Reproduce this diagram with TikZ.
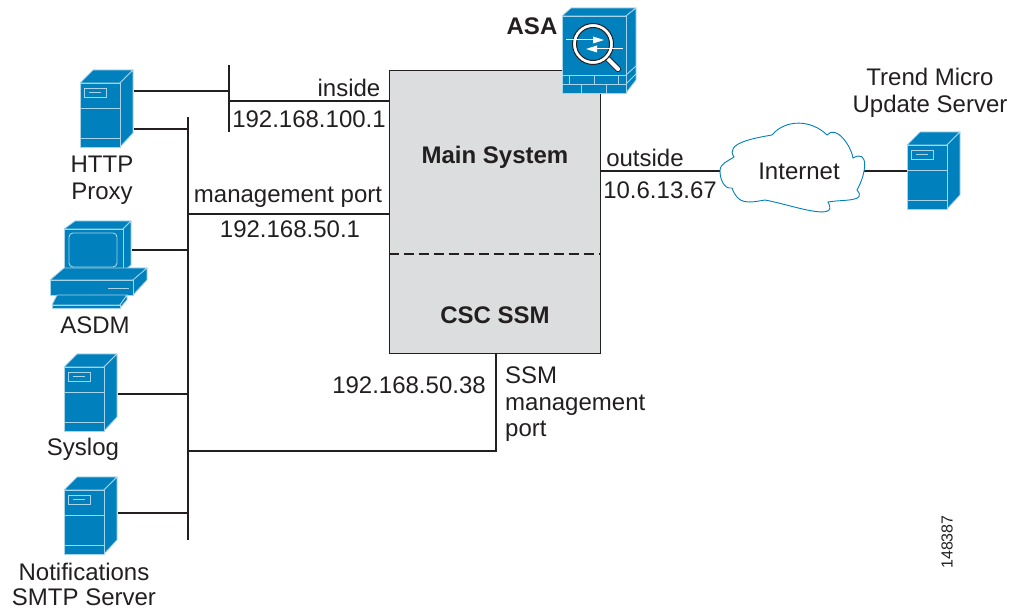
\documentclass[tikz,border=0pt]{standalone}
\usepackage{fontspec}
\setmainfont{Liberation Sans}
\usetikzlibrary{calc}

\definecolor{ciscoblue}{HTML}{0080BC}
\definecolor{edgeblue}{HTML}{A8D4EA}
\definecolor{boxgray}{HTML}{DCDDDE}
\definecolor{inkdark}{HTML}{231F20}

\tikzset{
  face/.style = {fill=ciscoblue, draw=edgeblue, line width=0.8pt, line join=round},
  trim/.style = {draw=edgeblue, line width=0.9pt},
  server/.pic = {
    \path[face] (0,0) -- (13,-13) -- (53,-13) -- (40,0) -- cycle;
    \path[face] (40,0) -- (53,-13) -- (53,50) -- (40,64) -- cycle;
    \path[face] (0,0) rectangle (40,64);
    \path[trim] (4,5) rectangle (26,14);
    \path[trim] (9,9.5) -- (21,9.5);
    \path[trim] (0,25) -- (40,25);
    \path[trim] (0,55) -- (40,55);
  },
  desktop/.pic = {
    % monitor
    \path[face] (0,0) -- (11,-8) -- (67,-8) -- (59,0) -- cycle;
    \path[face] (59,0) -- (67,-8) -- (67,36) -- (59,43) -- cycle;
    \path[face] (0,0) rectangle (59,43);
    \path[trim, rounded corners=4pt] (5,4) rectangle (53,38);
    % base
    \path[face] (-14,51) -- (0,39) -- (83,39) -- (69,51) -- cycle;
    \path[face] (69,51) -- (83,39) -- (83,51) -- (69,66) -- cycle;
    \path[face] (-14,51) rectangle (69,66);
    \path[trim, line width=1.3pt] (44,59.5) -- (65,59.5);
    % keyboard
    \path[face] (-7,66) -- (63,66) -- (56,76) -- (-12,76) -- cycle;
    \path[face] (63,66) -- (63,71) -- (56,79) -- (56,76) -- cycle;
    \path[face] (-12,76) rectangle (56,79);
  },
  firewall/.pic = {
    \path[face] (0,0) -- (9,-8) -- (74,-8) -- (64,0) -- cycle;
    \path[face] (64,0) -- (74,-8) -- (74,64) -- (64,77) -- cycle;
    \path[face] (0,0) rectangle (64,77);
    % bricks
    \path[trim] (0,59) -- (64,59) (0,68) -- (64,68);
    \path[trim] (7,59) -- (7,68) (32,59) -- (32,68) (56,59) -- (56,68);
    \path[trim] (19,68) -- (19,77) (44,68) -- (44,77);
    \path[trim] (64,59) -- (74,50) (64,68) -- (74,58);
    % magnifier
    \draw[inkdark, line width=6pt, line cap=round] (46,43) -- (56,53);
    \draw[white, line width=4.2pt, line cap=round] (46,43) -- (56,53);
    \draw[white, line width=3.6pt] (31,28) circle (18.5);
    \draw[inkdark, line width=1pt] (31,28) circle (20.5) (31,28) circle (16.5);
    \draw[white, line width=1pt] (4,24) -- (32,24);
    \fill[white] (31,20.5) -- (42,24) -- (31,27.5) -- cycle;
    \draw[white, line width=1pt] (61,33) -- (34,33);
    \fill[white] (35,29.5) -- (24,33) -- (35,36.5) -- cycle;
  }
}

\begin{document}
\begin{tikzpicture}[
    x = 1pt, y = -1pt,
    every node/.style = {text=inkdark, font=\fontsize{24}{26.5}\selectfont, inner sep=0pt},
    link/.style = {draw=inkdark, line width=1.5pt},
    strong/.style = {font=\fontsize{24}{26.5}\selectfont\bfseries},
    cloudbox/.style = {minimum width=143pt, minimum height=85pt}
  ]
  \useasboundingbox (0,0) rectangle (1010,609);

  \node[draw=inkdark, fill=boxgray, line width=1pt, minimum width=211pt, minimum height=283pt]
    (mainbox) at (494.5,212.5) {};
  \draw[dash pattern=on 10pt off 5pt, inkdark, line width=1.3pt]
    (mainbox.west |- 0,254) -- (mainbox.east |- 0,254);

  \coordinate (bustop) at (188,117);
  \coordinate (busend) at (188,540);
  \coordinate (lantop) at (229,65);
  \coordinate (lanend) at (229,132);

  \coordinate (proxyup) at (134,91);
  \coordinate (proxydown) at (134,129);
  \coordinate (asdmport) at (132,250);
  \coordinate (syslogport) at (118,394);
  \coordinate (smtpport) at (118,513);
  \coordinate (trendport) at (907,172);

  \node[cloudbox] (internet) at (792,171) {};

  % Lines
  \path[link] (bustop) -- (busend);
  \path[link] (lantop) -- (lanend);
  \path[link] (proxyup) -- (proxyup -| lantop);
  \path[link] (proxydown) -- (proxydown -| bustop);
  \path[link] (asdmport) -- (asdmport -| bustop);
  \path[link] (syslogport) -- (syslogport -| bustop);
  \path[link] (smtpport) -- (smtpport -| bustop);
  \path[link] (lantop |- 0,101) -- (mainbox.west |- 0,101);
  \path[link] (bustop |- 0,214) -- (mainbox.west |- 0,214);
  \path[link] (bustop |- 0,451) -- (496,451) -- (496,354);
  \path[link] (mainbox.east |- internet.west) -- (internet.west);
  \path[link] (internet.east) -- (trendport |- internet.east);

  % Cloud
  \draw[ciscoblue, line width=0.9pt, fill=white]
    (720,171) to[out=90, in=215] (734,157)
    to[out=125, in=190] (772,135)
    to[out=50, in=135] (827,135)
    to[out=50, in=100] (853,158)
    to[out=30, in=60, looseness=1.5] (857,190)
    to[out=-50, in=10, looseness=1.3] (828,202)
    to[out=-60, in=-10] (765,200)
    to[out=-170, in=-70, looseness=1.3] (732,188)
    to[out=-170, in=-90] cycle;

  % Devices
  \pic at (80,83) {server};
  \pic at (64,229) {desktop};
  \pic at (64,367) {server};
  \pic at (64,490) {server};
  \pic at (907,145) {server};
  \pic at (562,16) {firewall};

  % Labels
  \node[align=center] (proxylabel) at (102,180) {HTTP\\Proxy};
  \node (asdmlabel) at (95,325) {ASDM};
  \node (sysloglabel) at (83,449) {Syslog};
  \node[align=center, font=\fontsize{24}{25}\selectfont] (smtplabel) at (84,584) {Notifications\\SMTP Server};
  \node[align=center] (trendlabel) at (930,93) {Trend Micro\\Update Server};
  \node[strong] (asalabel) at (532,26) {ASA};
  \node (insidelabel) at (349,88) {inside};
  \node (insideip) at (309,119) {192.168.100.1};
  \node (mgmtlabel) at (288,197) {management port};
  \node (mgmtip) at (290,229) {192.168.50.1};
  \node[strong] (mainlabel) at (495,157) {Main System};
  \node[strong] (ssmlabel) at (495,315) {CSC SSM};
  \node (outsidelabel) at (645,158) {outside};
  \node (outsideip) at (660,190) {10.6.13.67};
  \node (internetlabel) at (799,171) {Internet};
  \node (ssmip) at (409,385) {192.168.50.38};
  \node[align=left, anchor=north west] (ssmport) at (505,367) {SSM\\management\\port};
  \node[rotate=90, font=\fontsize{16}{18}\selectfont] (figid) at (947,542) {148387};
\end{tikzpicture}
\end{document}
